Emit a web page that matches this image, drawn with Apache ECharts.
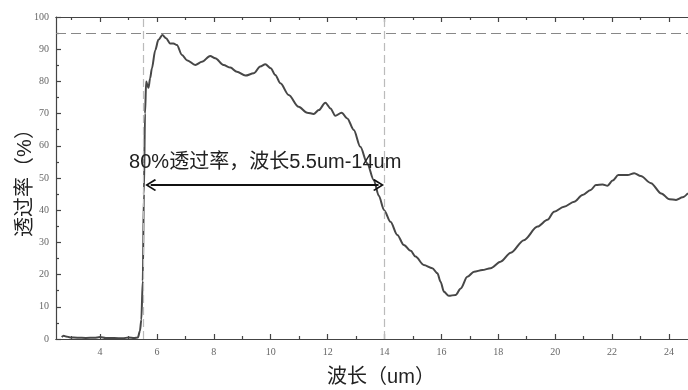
<!DOCTYPE html>
<html><head><meta charset="utf-8">
<script src="https://cdn.jsdelivr.net/npm/echarts@6/dist/echarts.min.js"></script>
<style>html,body{margin:0;padding:0;background:#fff}#c{width:688px;height:390px}</style>
</head><body><div id="c"></div>
<script>
// wavelength (um)
var wavelength = [2.65,2.72,2.8,2.95,3.2,3.5,3.8,4.0,4.2,4.5,4.8,5.0,5.2,5.33,5.40,5.45,5.50,5.54,5.58,5.62,5.66,5.70,5.76,5.82,5.94,6.05,6.19,6.32,6.46,6.58,6.70,6.88,7.05,7.35,7.58,7.87,8.05,8.34,8.58,8.81,9.11,9.40,9.63,9.81,10.0,10.16,10.34,10.63,10.98,11.28,11.51,11.69,11.92,12.10,12.27,12.49,12.69,12.92,13.15,13.39,13.62,13.80,13.98,14.21,14.45,14.68,14.92,15.09,15.38,15.68,15.86,15.97,16.09,16.26,16.50,16.68,16.91,17.15,17.44,17.73,18.08,18.44,18.90,19.38,19.73,19.96,20.31,20.67,20.96,21.25,21.43,21.67,21.84,22.02,22.22,22.55,22.78,23.01,23.37,23.73,24.02,24.25,24.48,24.67];
// transmittance (%)
var transmittance = [0.6,1.0,0.8,0.5,0.4,0.3,0.4,0.6,0.3,0.3,0.2,0.5,0.3,0.5,2.5,6,18,45,70,80,79,78,81,84,89.7,92.9,94.4,93.4,91.8,91.8,91.3,88.2,86.6,85.1,86.1,87.9,87.2,85.1,84.3,83.0,81.8,82.5,84.6,85.3,84.1,82.0,79.4,75.8,72.1,70.3,69.9,71.1,73.4,71.6,69.3,70.3,68.5,64.9,59.7,54.6,49.4,44.5,40.1,36.4,32.3,29.2,27.4,25.6,23.0,22.0,20.4,17.8,14.7,13.4,13.7,15.7,19.3,20.9,21.4,22.0,24.0,26.8,30.7,34.9,37.0,39.5,41.1,42.6,44.7,46.3,47.8,48.0,47.6,49.2,50.9,50.9,51.5,50.6,48.4,45.2,43.4,43.2,44.0,45.3];
var xMajorTicks = [4,6,8,10,12,14,16,18,20,22,24];
var xMinorTicks = [3,5,7,9,11,13,15,17,19,21,23];
var refLevel = 95;          // horizontal dashed line
var bandStart = 5.5, bandEnd = 14, arrowLevel = 47.8;
var arrowStart = 5.78, arrowEnd = 13.79;
var noteText = '80%透过率，波长5.5um-14um';
var notePos = [5.02, 54.7];

var chart = echarts.init(document.getElementById('c'));
var axisCol = '#444';
var serif = '"Liberation Serif","DejaVu Serif",serif';
var sans = '"Liberation Sans","Noto Sans CJK SC",sans-serif';
var xMin = 2.45, xMax = 24.67;
function xAx(pos, ticks, len, labels) {
  return {
    type: 'value', position: pos, min: xMin, max: xMax,
    axisLine: {show: true, onZero: false, lineStyle: {color: axisCol, width: 1.2}},
    axisTick: {show: true, inside: true, length: len, customValues: ticks, lineStyle: {color: axisCol, width: 1.2}},
    axisLabel: labels ? {show: true, customValues: xMajorTicks, color: '#666', fontFamily: serif, fontSize: 10, margin: 8} : {show: false},
    splitLine: {show: false}
  };
}
var xAxes = [xAx('bottom', xMajorTicks, 5, true), xAx('bottom', xMinorTicks, 3, false), xAx('top', xMajorTicks, 5, false), xAx('top', xMinorTicks, 3, false)];
xAxes[0].name = '波长（um）';
xAxes[0].nameLocation = 'middle';
xAxes[0].nameGap = 28;
xAxes[0].nameMoveOverlap = false;
xAxes[0].nameTextStyle = {fontFamily: sans, fontSize: 20, color: '#222', padding: [0, 0, 0, 18]};

var line = [];
for (var i = 0; i < wavelength.length; i++) line.push([wavelength[i], transmittance[i]]);

var chevron = 'path://M5,0 L10,8 L9,9.2 L5,2.6 L1,9.2 L0,8 Z';

chart.setOption({
  backgroundColor: '#fff',
  animation: false,
  grid: {left: 56, right: 0, top: 17, bottom: 51, outerBoundsMode: 'none', containLabel: false},
  xAxis: xAxes,
  yAxis: {
    type: 'value', min: 0, max: 100, interval: 10,
    name: '透过率（%）', nameLocation: 'middle', nameGap: 21, nameRotate: 90, nameMoveOverlap: false,
    nameTextStyle: {fontFamily: sans, fontSize: 20, color: '#222'},
    axisLine: {show: true, lineStyle: {color: axisCol, width: 1.2}},
    axisTick: {show: true, inside: true, length: 5, lineStyle: {color: axisCol, width: 1.2}},
    minorTick: {show: true, splitNumber: 2, length: 3, lineStyle: {color: axisCol, width: 1.2}},
    axisLabel: {color: '#666', fontFamily: serif, fontSize: 10, margin: 7},
    splitLine: {show: false}
  },
  series: [{
    type: 'line', data: line, showSymbol: false, smooth: 0.3, smoothMonotone: 'x',
    lineStyle: {color: '#474747', width: 2},
    markLine: {
      silent: true, symbol: 'none', label: {show: false},
      data: [
        [{coord: [xMin, refLevel], lineStyle: {color: '#888', type: [10, 5], width: 1.2}}, {coord: [xMax, refLevel]}],
        [{coord: [bandStart, 0], lineStyle: {color: '#bbb', type: [8, 4], width: 1.2}}, {coord: [bandStart, 100]}],
        [{coord: [bandEnd, 0], lineStyle: {color: '#bbb', type: [8, 4], width: 1.2}}, {coord: [bandEnd, 100]}],
        [{coord: [arrowStart, arrowLevel], symbol: chevron, symbolSize: [12, 11], lineStyle: {color: '#111', type: 'solid', width: 1.8}},
         {coord: [arrowEnd, arrowLevel], symbol: chevron, symbolSize: [12, 11]}]
      ]
    },
    markPoint: {
      silent: true, symbol: 'circle', symbolSize: 0,
      data: [{coord: notePos, label: {show: true, formatter: noteText, position: 'right', distance: 0, align: 'left', verticalAlign: 'middle', color: '#222', fontFamily: sans, fontSize: 20}}]
    }
  }]
});
</script></body></html>
